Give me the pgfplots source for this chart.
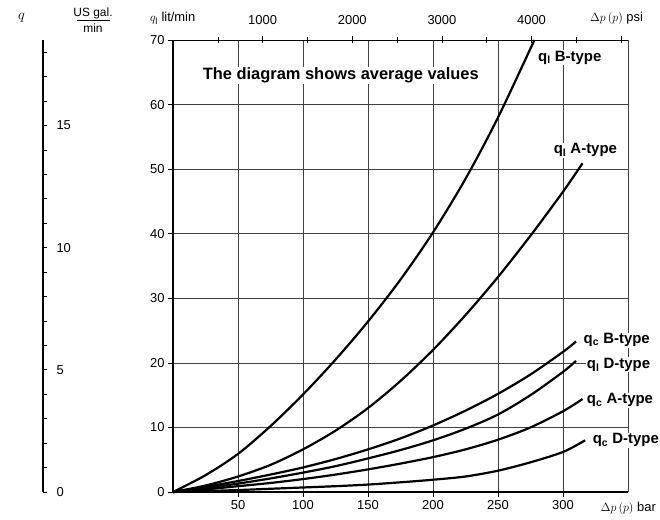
\documentclass[border=0pt]{standalone}
\usepackage{fontspec}
\setmainfont{Liberation Sans}
\usepackage{pgfplots}
\pgfplotsset{compat=1.18}
\begin{document}
\begin{tikzpicture}[x=1bp,y=1bp]
\path[use as bounding box] (0,0) rectangle (660,520);
% ---------- left US gal/min scale ----------
\begin{axis}[at={(42bp,28bp)}, anchor=south west, scale only axis,
  width=1bp, height=452bp,
  xmin=0, xmax=1, ymin=0, ymax=18.494,
  axis x line=none, axis y line=right,
  y axis line style={-, line width=2.8bp},
  ytick={0,5,10,15}, minor ytick={1,2,3,4,6,7,8,9,11,12,13,14,16,17,18},
  tick align=outside, major tick length=4bp, minor tick length=4bp,
  tick style={black, line width=0.6bp},
  yticklabel style={font=\fontsize{13}{13}\selectfont, anchor=west, xshift=6bp},
  /pgf/number format/assume math mode=true]
\end{axis}
\node[anchor=base west, font=\fontsize{15}{15}\selectfont, inner sep=0pt] at (18bp,500bp) {$q$};
\node[anchor=base, font=\fontsize{12}{12}\selectfont, inner sep=0pt] at (93bp,503bp) {US gal.};
\draw[line width=0.7bp] (77bp,499.5bp) -- (110bp,499.5bp);
\node[anchor=base, font=\fontsize{12}{12}\selectfont, inner sep=0pt] at (93bp,487bp) {min};
% ---------- main axis (bar) ----------
\begin{axis}[at={(173bp,28bp)}, anchor=south west, scale only axis,
  width=455bp, height=452bp,
  xmin=0, xmax=350, ymin=0, ymax=70,
  axis lines*=left,
  axis line style={line width=2.5bp},
  xtick={50,100,150,200,250,300}, ytick={0,10,20,30,40,50,60,70},
  grid=major, major grid style={black!75, line width=0.6bp},
  tick align=outside, major tick length=5bp,
  tick style={black, line width=0.6bp},
  ticklabel style={font=\fontsize{13}{13}\selectfont},
  /pgf/number format/assume math mode=true,
  clip=false]
\draw[black!75, line width=0.6bp] (axis cs:350,0) -- (axis cs:350,70);
% q_l B-type
\addplot[black, line width=2.2bp, smooth] coordinates {(0,0) (25,2.6) (50,5.9) (75,10.2) (100,15.1) (125,20.5) (150,26.4) (175,32.9) (200,40.2) (225,48.5) (250,58.0) (278,70)};
% q_l A-type
\addplot[black, line width=2.2bp, smooth] coordinates {(0,0) (25,1.0) (50,2.4) (75,4.2) (100,6.6) (125,9.5) (150,13.0) (175,17.2) (200,22.0) (225,27.4) (250,33.3) (275,39.7) (300,46.5) (315,50.9)};
% q_c B-type
\addplot[black, line width=2.2bp, smooth] coordinates {(0,0) (25,0.8) (50,1.7) (75,2.7) (100,3.8) (125,5.1) (150,6.6) (175,8.3) (200,10.3) (225,12.6) (250,15.2) (275,18.2) (300,21.7) (310,23.3)};
% q_l D-type
\addplot[black, line width=2.2bp, smooth] coordinates {(0,0) (25,0.6) (50,1.3) (75,2.1) (100,3.0) (125,4.0) (150,5.2) (175,6.5) (200,8.0) (225,9.8) (250,12.0) (275,15.0) (300,18.6) (310,20.3)};
% q_c A-type
\addplot[black, line width=2.2bp, smooth] coordinates {(0,0) (25,0.4) (50,0.9) (75,1.4) (100,2.0) (125,2.7) (150,3.5) (175,4.4) (200,5.4) (225,6.6) (250,8.1) (275,10.0) (300,12.5) (315,14.4)};
% q_c D-type
\addplot[black, line width=2.2bp, smooth] coordinates {(0,0) (25,0.15) (50,0.3) (75,0.5) (100,0.7) (125,0.9) (150,1.15) (175,1.5) (200,1.9) (225,2.4) (250,3.3) (275,4.6) (300,6.2) (317,8.0)};
\begin{scope}[every node/.style={anchor=west, fill=white, inner sep=1bp, font=\fontsize{15}{15}\selectfont\bfseries}]
\node[font=\fontsize{16.5}{16.5}\selectfont\bfseries] at (axis cs:22,64.5) {The diagram shows average values};
\node at (axis cs:280,67.3) {q\textsubscript{l} B-type};
\node at (axis cs:292,52.9) {q\textsubscript{l} A-type};
\node at (axis cs:315,23.5) {q\textsubscript{c} B-type};
\node at (axis cs:317.5,19.7) {q\textsubscript{l} D-type};
\node at (axis cs:317.5,14.2) {q\textsubscript{c} A-type};
\node at (axis cs:322,8.0) {q\textsubscript{c} D-type};
\end{scope}
\node[anchor=west, font=\fontsize{13}{13}\selectfont, inner sep=0pt] at (axis cs:329,0) [yshift=-16bp] {$\Delta p\,(p)$ bar};
\end{axis}
% ---------- top axis (psi) ----------
\begin{axis}[at={(173bp,28bp)}, anchor=south west, scale only axis,
  width=455bp, height=452bp,
  xmin=0, xmax=5076.3, ymin=0, ymax=1,
  axis x line*=top, axis y line=none,
  x axis line style={line width=0.8bp},
  xtick={1000,2000,3000,4000}, extra x ticks={5000}, extra x tick labels={},
  minor xtick={500,1500,2500,3500,4500},
  tick align=center, major tick length=7bp, minor tick length=6bp,
  tick style={black, line width=0.6bp},
  ticklabel style={font=\fontsize{13}{13}\selectfont},
  xticklabel style={yshift=8bp},
  /pgf/number format/set thousands separator={},
  /pgf/number format/assume math mode=true]
\end{axis}
\node[anchor=base west, font=\fontsize{13}{13}\selectfont, inner sep=0pt] at (150bp,498bp) {$q_{\mathrm{l}}$ lit/min};
\node[anchor=base west, font=\fontsize{13}{13}\selectfont, inner sep=0pt] at (590bp,498bp) {$\Delta p\,(p)$ psi};
\end{tikzpicture}
\end{document}
